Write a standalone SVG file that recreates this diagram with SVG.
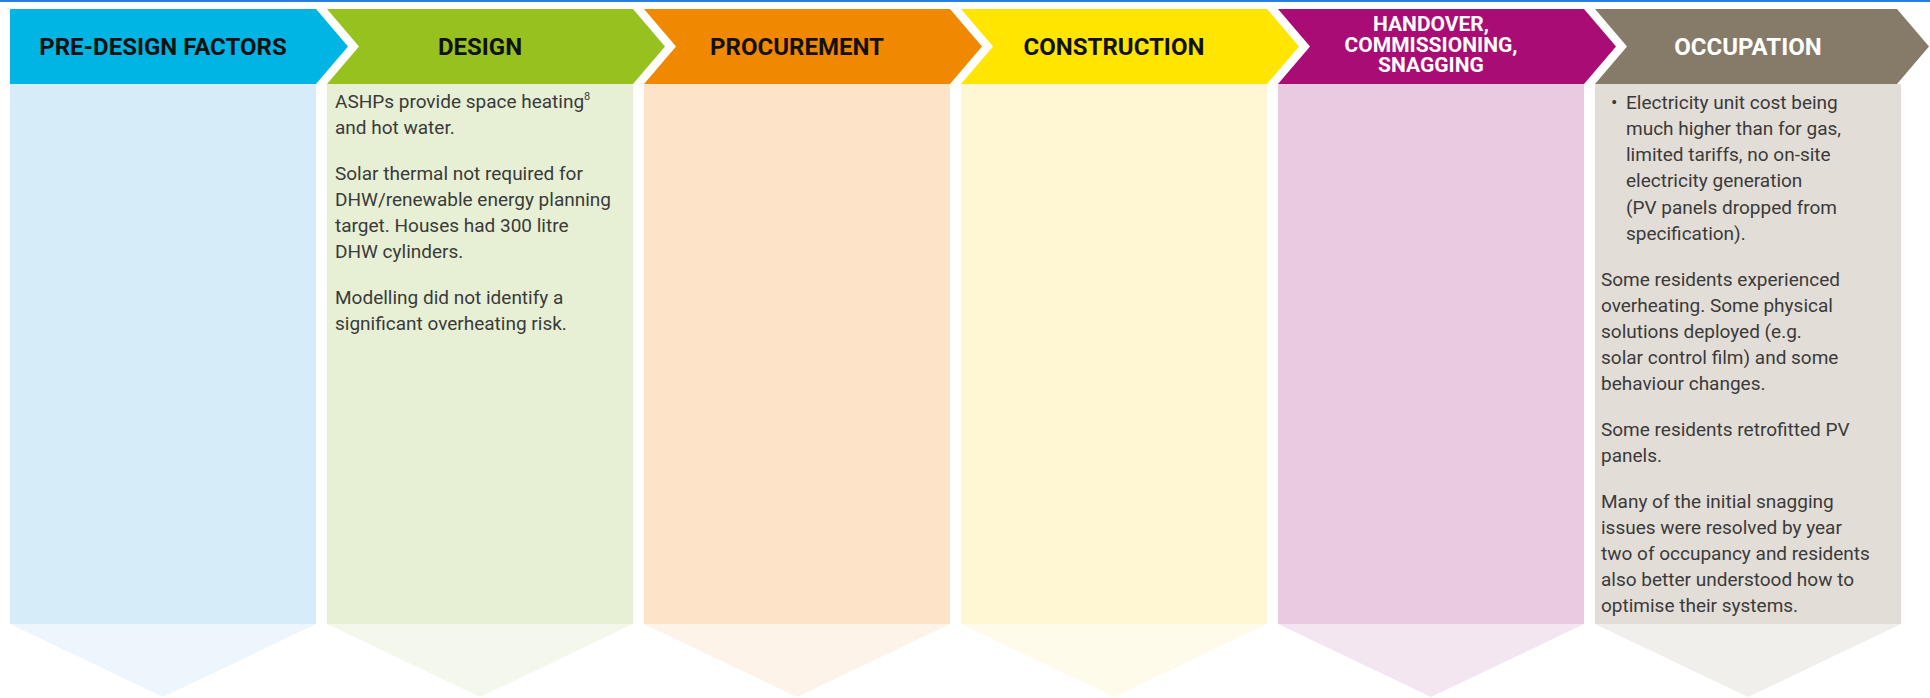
<svg xmlns="http://www.w3.org/2000/svg" width="1930" height="698" viewBox="0 0 1930 698">
<style>
.h{font-family:Roboto,"Liberation Sans",sans-serif;font-weight:700;font-size:24px;text-anchor:middle}
.h2{font-size:21px}
.hw{fill:#ffffff}
.hb{fill:#111111}
.t{font-family:Roboto,"Liberation Sans",sans-serif;font-size:19px;fill:#3a3a3a}
</style>
<rect x="0" y="0" width="1930" height="698" fill="#ffffff"/>
<rect x="0" y="0" width="1930" height="2" fill="#2b7de0"/>
<g id="stage-predesign">
<rect x="10" y="84" width="306" height="540" fill="#d6edf9"/>
<polygon points="10,624 316,624 163,697" fill="#eef6fd"/>
<polygon points="10,9 316,9 348,46.5 316,84 10,84" fill="#00b5e4"/>
<text class="h hb" x="163" y="55">PRE-DESIGN FACTORS</text>
</g>
<g id="stage-design">
<rect x="327" y="84" width="306" height="540" fill="#e7f0d5"/>
<polygon points="327,624 633,624 480,697" fill="#f4f8ec"/>
<polygon points="327,9 633,9 665,46.5 633,84 327,84 359,46.5" fill="#97c11f"/>
<text class="h hb" x="480" y="55">DESIGN</text>
<text class="t" x="335" y="108">ASHPs provide space heating<tspan font-size="11" dy="-8">8</tspan></text>
<text class="t" x="335" y="134">and hot water.</text>
<text class="t" x="335" y="180">Solar thermal not required for</text>
<text class="t" x="335" y="206">DHW/renewable energy planning</text>
<text class="t" x="335" y="232">target. Houses had 300 litre</text>
<text class="t" x="335" y="258">DHW cylinders.</text>
<text class="t" x="335" y="304">Modelling did not identify a</text>
<text class="t" x="335" y="330">significant overheating risk.</text>
</g>
<g id="stage-procurement">
<rect x="644" y="84" width="306" height="540" fill="#fde3c8"/>
<polygon points="644,624 950,624 797,697" fill="#fdf3e8"/>
<polygon points="644,9 950,9 982,46.5 950,84 644,84 676,46.5" fill="#f08800"/>
<text class="h hb" x="797" y="55">PROCUREMENT</text>
</g>
<g id="stage-construction">
<rect x="961" y="84" width="306" height="540" fill="#fff7d4"/>
<polygon points="961,624 1267,624 1114,697" fill="#fffbea"/>
<polygon points="961,9 1267,9 1299,46.5 1267,84 961,84 993,46.5" fill="#ffe500"/>
<text class="h hb" x="1114" y="55">CONSTRUCTION</text>
</g>
<g id="stage-handover">
<rect x="1278" y="84" width="306" height="540" fill="#e9cbe1"/>
<polygon points="1278,624 1584,624 1431,697" fill="#f3e6f0"/>
<polygon points="1278,9 1584,9 1616,46.5 1584,84 1278,84 1310,46.5" fill="#a90c75"/>
<text class="h h2 hw" x="1431" y="31">HANDOVER,<tspan x="1431" dy="20.5">COMMISSIONING,</tspan><tspan x="1431" dy="20.5">SNAGGING</tspan></text>
</g>
<g id="stage-occupation">
<rect x="1595" y="84" width="306" height="540" fill="#e3ddd7"/>
<polygon points="1595,624 1901,624 1748,697" fill="#f1efeb"/>
<polygon points="1595,9 1897,9 1929,46.5 1897,84 1595,84 1627,46.5" fill="#867a69"/>
<text class="h hw" x="1748" y="55">OCCUPATION</text>
<text class="t" x="1611" y="109">•</text>
<text class="t" x="1626" y="109">Electricity unit cost being</text>
<text class="t" x="1626" y="135">much higher than for gas,</text>
<text class="t" x="1626" y="161">limited tariffs, no on-site</text>
<text class="t" x="1626" y="187">electricity generation</text>
<text class="t" x="1626" y="214">(PV panels dropped from</text>
<text class="t" x="1626" y="240">specification).</text>
<text class="t" x="1601" y="286">Some residents experienced</text>
<text class="t" x="1601" y="312">overheating. Some physical</text>
<text class="t" x="1601" y="338">solutions deployed (e.g.</text>
<text class="t" x="1601" y="364">solar control film) and some</text>
<text class="t" x="1601" y="390">behaviour changes.</text>
<text class="t" x="1601" y="436">Some residents retrofitted PV</text>
<text class="t" x="1601" y="462">panels.</text>
<text class="t" x="1601" y="508">Many of the initial snagging</text>
<text class="t" x="1601" y="534">issues were resolved by year</text>
<text class="t" x="1601" y="560">two of occupancy and residents</text>
<text class="t" x="1601" y="586">also better understood how to</text>
<text class="t" x="1601" y="612">optimise their systems.</text>
</g>
<g id="connectors"></g>
</svg>
